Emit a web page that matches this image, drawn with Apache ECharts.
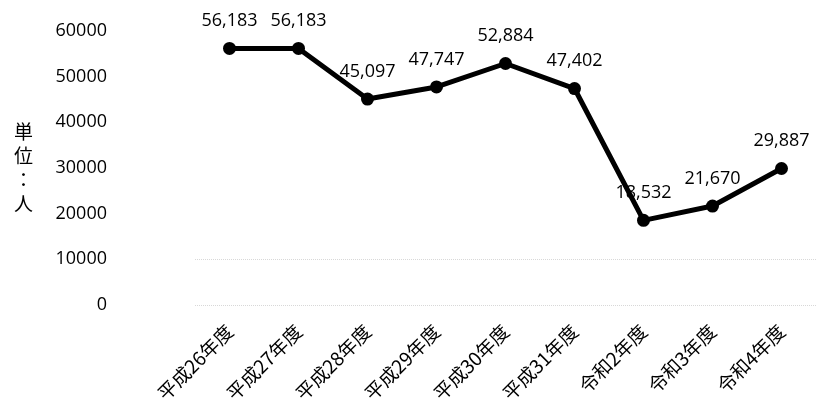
<!DOCTYPE html>
<html>
<head>
<meta charset="utf-8">
<script src="https://cdn.jsdelivr.net/npm/echarts@6/dist/echarts.min.js"></script>
<style>
  html, body { margin: 0; padding: 0; background: #fff; }
  #main { width: 816px; height: 419px; }
</style>
</head>
<body>
<div id="main"></div>
<script>
var years = ['平成26年度', '平成27年度', '平成28年度', '平成29年度', '平成30年度', '平成31年度', '令和2年度', '令和3年度', '令和4年度']
var people = [56183, 56183, 45097, 47747, 52884, 47402, 18532, 21670, 29887]
var yTicks = { min: 0, max: 60000, interval: 10000 }

var chart = echarts.init(document.getElementById('main'))
var option = {
  backgroundColor: '#fff',
  animation: false,
  grid: { left: 195, right: 0, top: 31, bottom: 114 },
  xAxis: {
    type: 'category',
    data: years,
    axisLine: { show: false },
    axisTick: { show: false },
    axisLabel: {
      rotate: 45,
      margin: 23,
      color: '#000',
      fontSize: 19,
      fontFamily: 'Noto Sans CJK JP',
      interval: 0
    }
  },
  yAxis: {
    type: 'value',
    min: yTicks.min,
    max: yTicks.max,
    interval: yTicks.interval,
    name: '単\n位\n：\n人',
    nameLocation: 'middle',
    nameRotate: 0,
    nameGap: 162,
    nameTextStyle: { fontSize: 19, color: '#000', fontFamily: 'Noto Sans CJK JP', lineHeight: 24 },
    axisLine: { show: false },
    axisTick: { show: false },
    axisLabel: {
      margin: 88,
      color: '#000',
      fontSize: 18,
      fontFamily: 'Open Sans',
      formatter: function (v) { return String(v) }
    },
    splitLine: {
      lineStyle: {
        type: 'dotted',
        width: 1,
        // only the two lowest lines survive in the scan
        color: ['#d8d8d8', '#d8d8d8', '#fff', '#fff', '#fff', '#fff', '#fff']
      }
    }
  },
  series: [{
    type: 'line',
    data: people,
    symbol: 'circle',
    symbolSize: 13,
    itemStyle: { color: '#000' },
    lineStyle: { color: '#000', width: 5 },
    label: {
      show: true,
      position: 'top',
      distance: 12,
      color: '#000',
      fontSize: 18,
      fontFamily: 'Open Sans',
      formatter: function (p) { return p.value.toLocaleString('en-US') }
    }
  }]
}
chart.setOption(option)
</script>
</body>
</html>
